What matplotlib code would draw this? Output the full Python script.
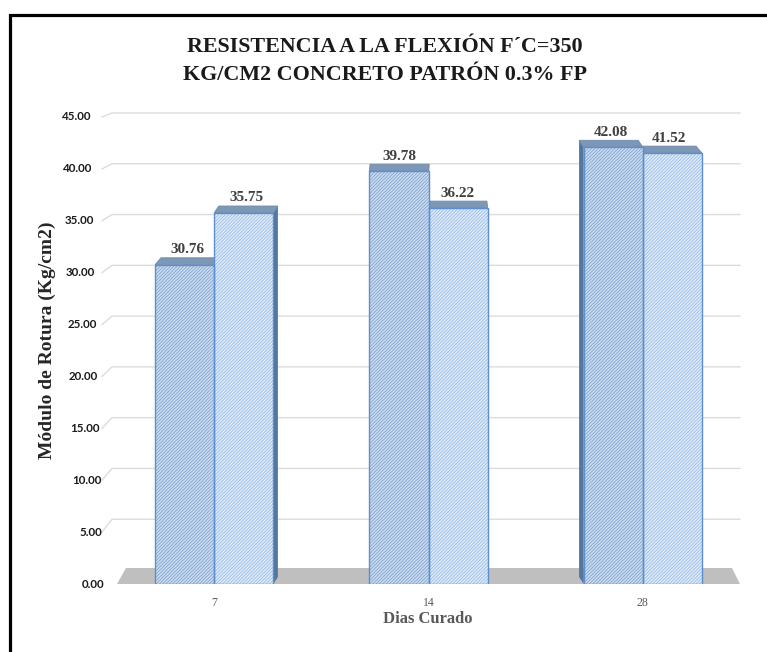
import numpy as np
import matplotlib
matplotlib.use('Agg')
import matplotlib.pyplot as plt
from matplotlib.patches import Polygon, Rectangle

# datos
dias = ['7', '14', '28']
patron = [30.76, 39.78, 42.08]
fibra = [35.75, 36.22, 41.52]
yticks = [0, 5, 10, 15, 20, 25, 30, 35, 40, 45]

titulo = 'RESISTENCIA A LA FLEXIÓN F´C=350\nKG/CM2 CONCRETO PATRÓN 0.3% FP'

W, H = 767, 652
fig = plt.figure(figsize=(W / 100, H / 100), dpi=100)
L, R, B, T = 117, 740, 584, 117
ax = fig.add_axes([L / W, 1 - B / H, (R - L) / W, (B - T) / H])
x_lo, x_hi = -0.453, 2.453
ax.set_xlim(x_lo, x_hi)
ax.set_ylim(0, 45)
ax.axis('off')

sx = (R - L) / (x_hi - x_lo)   # px por unidad x
sy = (B - T) / 45.0            # px por unidad y
plt.rcParams['hatch.linewidth'] = 0.5

serif = 'Liberation Serif'

# piso gris
piso = Polygon([(x_lo, 0), (x_hi, 0), (x_hi - 8 / sx, 16 / sy), (x_lo + 9 / sx, 16 / sy)],
               closed=True, fc='#bfbfbf', ec='none', zorder=2, clip_on=False)
ax.add_patch(piso)

# lineas de division (pared del fondo)
for v in yticks[1:]:
    off = (4 + 10 * (1 - v / 45)) / sy
    ax.plot([x_lo - 15 / sx, x_lo - 5 / sx, x_hi], [v, v + off, v + off],
            color='#dcdcdc', lw=1, zorder=1, clip_on=False)

# etiquetas eje y
for v in yticks:
    xr = 91 + 13 * (1 - v / 45)
    ax.text(x_lo + (xr - L) / sx, v, f'{v:.2f}', ha='right', va='center',
            fontsize=8.3, fontweight='bold', family='Lato', color='#1a1a1a', clip_on=False)

w = 0.276
x = np.arange(len(dias))
dy = 7 / sy
estilos = [
    (x - w, patron, '#cbdcf0', '#7499c8'),
    (x, fibra, '#ddeaf8', '#8fb5e2'),
]

# caras laterales y superiores
for xs, vals, fill, hcol in estilos:
    for xi, v in zip(xs, vals):
        xc_px = L + (xi + w / 2 - x_lo) * sx
        dx = -0.025 * (xc_px - 428) / sx
        x0, x1 = xi, xi + w
        if dx > 0:
            lado = [(x1, 0), (x1, v), (x1 + dx, v + dy), (x1 + dx, dy)]
        else:
            lado = [(x0, 0), (x0, v), (x0 + dx, v + dy), (x0 + dx, dy)]
        ax.add_patch(Polygon(lado, closed=True, fc='#56769c', ec='none', zorder=3))
        tapa = [(x0, v), (x1, v), (x1 + dx, v + dy), (x0 + dx, v + dy)]
        ax.add_patch(Polygon(tapa, closed=True, fc='#7d97b6', ec='#6f8bb0', lw=0.6, zorder=3))
        ax.text((x0 + x1) / 2 + dx / 2, v + dy + 0.15, f'{v:.2f}', ha='center', va='bottom',
                fontsize=11, fontweight='bold', family=serif, color='#404040', zorder=6)

# caras frontales
for xs, vals, fill, hcol in estilos:
    ax.bar(xs, vals, w, align='edge', color=fill, edgecolor=hcol, hatch='/' * 10, lw=0, zorder=4)
    ax.bar(xs, vals, w, align='edge', fill=False, edgecolor='#5b8fd0', lw=1, zorder=5)

# etiquetas eje x
for xi, d in zip(x, dias):
    ax.text(xi, -19 / sy, d, ha='center', va='center', fontsize=8.5,
            family=serif, color='#595959', clip_on=False)

fig.text(428 / W, 1 - 619 / H, 'Dias Curado', ha='center', va='center',
         fontsize=12, fontweight='bold', family=serif, color='#595959')
fig.text(47 / W, 1 - 340 / H, 'Módulo de Rotura (Kg/cm2)', ha='center', va='center',
         rotation=90, fontsize=14, fontweight='bold', family=serif, color='#262626')
fig.text(385 / W, 1 - 61 / H, titulo, ha='center', va='center', fontsize=15.8,
         fontweight='bold', family=serif, color='#1a1a1a', linespacing=1.5)

# marco negro
fig.add_artist(Rectangle((9.5 / W, -0.1), 2, (H - 14.5) / H + 0.1, transform=fig.transFigure,
                         fill=False, ec='black', lw=2.3))

fig.savefig('out.png', dpi=100)
